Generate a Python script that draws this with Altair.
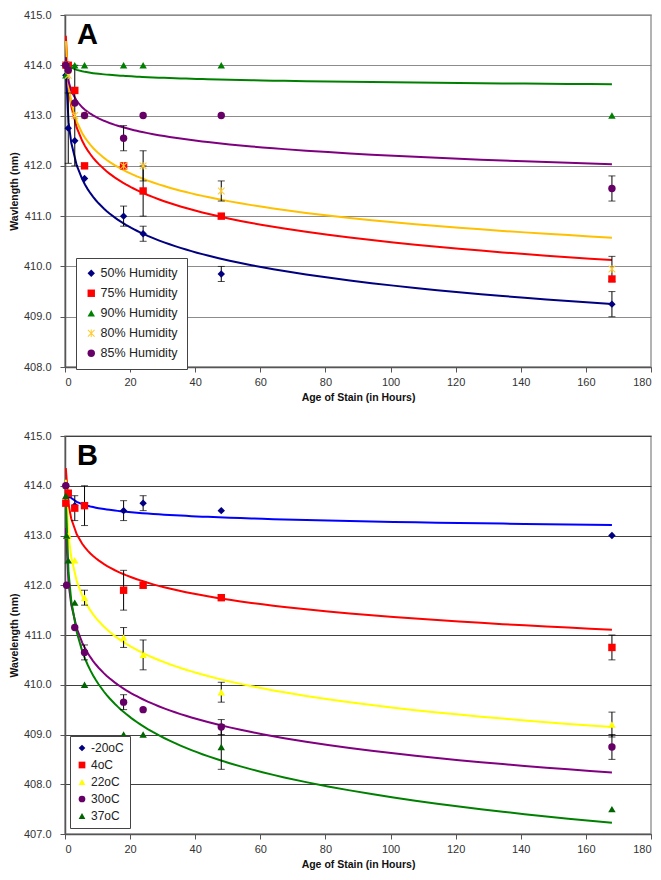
import altair as alt
import pandas as pd

# ---------------- Panel A : humidity ----------------
hours_a = [0.25, 1, 3, 6, 18, 24, 48, 168]
series_a = ["50% Humidity", "75% Humidity", "90% Humidity", "80% Humidity", "85% Humidity"]
a_50 = [413.8, 412.75, 412.5, 411.75, 411.0, 410.65, 409.85, 409.25]
a_50_err = [0, 0.7, 0, 0, 0.2, 0.15, 0.15, 0.25]
a_75 = [414.0, 414.0, 413.5, 412.0, 412.0, 411.5, 411.0, 409.75]
a_75_err = [0, 0, 0, 0, 0, 0.5, 0, 0]
a_90 = [413.8, 414.0, 414.0, 414.0, 414.0, 414.0, 414.0, 413.0]
a_90_err = [0, 0, 0, 0, 0, 0, 0, 0]
a_80 = [414.0, 413.8, 413.0, 413.0, 412.0, 412.0, 411.5, 409.95]
a_80_err = [0, 0, 1.0, 0, 0, 0.3, 0.2, 0.25]
a_85 = [414.0, 413.9, 413.25, 413.0, 412.55, 413.0, 413.0, 411.55]
a_85_err = [0, 0, 0, 0, 0.25, 0, 0, 0.25]

# ---------------- Panel B : temperature ----------------
hours_b = [0.25, 0.5, 1, 3, 6, 18, 24, 48, 168]
series_b = ["-20oC", "4oC", "22oC", "30oC", "37oC"]
b_m20 = [414.0, None, 413.8, 413.6, 413.6, 413.5, 413.65, 413.5, 413.0]
b_m20_err = [0, 0, 0, 0, 0, 0.2, 0.15, 0, 0]
b_4 = [413.65, None, 413.85, 413.55, 413.6, 411.9, 412.0, 411.75, 410.75]
b_4_err = [0, 0, 0, 0.25, 0.4, 0.4, 0, 0, 0.25]
b_22 = [414.0, None, 413.0, 412.5, 411.75, 410.95, 410.6, 409.85, 409.2]
b_22_err = [0, 0, 0, 0, 0.15, 0.2, 0.3, 0.2, 0.25]
b_30 = [414.0, 412.0, None, 411.15, 410.65, 409.65, 409.5, 409.15, 408.75]
b_30_err = [0, 0, 0, 0, 0.15, 0.15, 0, 0.15, 0.25]
b_37 = [413.8, 413.0, 412.5, 411.65, 410.0, 409.0, 409.0, 408.75, 407.5]
b_37_err = [0, 0, 0, 0, 0, 0, 0, 0.45, 0]

STAR = ("M-1,-0.8L-0.8,-1L0,-0.2L0.8,-1L1,-0.8L0.2,0L1,0.8L0.8,1L0,0.2L-0.8,1L-1,0.8L-0.2,0Z"
        "M-0.14,-1L0.14,-1L0.14,1L-0.14,1Z")

FONT = "Liberation Sans"


def build(hours, names, vals, errs):
    rows = []
    for name, v, e in zip(names, vals, errs):
        for h, y, err in zip(hours, v, e):
            if y is None:
                continue
            rows.append({"hours": h, "value": y, "series": name, "err": err,
                         "lo": y - err, "hi": y + err})
    return pd.DataFrame(rows)


def panel(df, names, ydom, yvals, ytitle, marker_colors, line_colors, shapes,
          width, height, legend_x, legend_y, legend_row, sym_size, label, grid_color,
          xmin, field, legend_pad, label_size):
    df = df.rename(columns={"series": field})
    x = alt.X("hours:Q", scale=alt.Scale(domain=[0, 180], nice=False),
              axis=alt.Axis(values=list(range(0, 181, 20)), grid=False,
                            title="Age of Stain (in Hours)"))
    y = alt.Y("value:Q", scale=alt.Scale(domain=ydom, nice=False, zero=False),
              axis=alt.Axis(values=yvals, format=".1f", grid=True, gridColor=grid_color,
                            gridWidth=1, title=ytitle))
    base = alt.Chart(df)
    leg = dict(title=None, orient="none", legendX=legend_x, legendY=legend_y,
               fillColor="white", strokeColor="#444", padding=legend_pad,
               labelFontSize=label_size, labelFont=FONT, labelColor="#222",
               symbolSize=sym_size, symbolStrokeWidth=0, rowPadding=legend_row,
               labelOffset=3)
    trend_names = [n + " trend" for n in names]
    lines = base.transform_regression(
        "hours", "value", groupby=[field], method="log", extent=[xmin, 168]
    ).transform_calculate(
        trend=f"datum['{field}'] + ' trend'"
    ).mark_line(strokeWidth=2, clip=True).encode(
        x=x, y=y,
        stroke=alt.Stroke("trend:N", scale=alt.Scale(domain=trend_names, range=line_colors),
                          legend=None),
    )
    err = base.transform_filter("datum.err > 0")
    bars = err.mark_rule(color="black", strokeWidth=1).encode(
        x="hours:Q", y="lo:Q", y2="hi:Q")
    caps = err.transform_fold(["lo", "hi"], as_=["k", "v"]).mark_tick(
        orient="horizontal", color="black", size=7, thickness=1).encode(
        x="hours:Q", y="v:Q")
    points = base.mark_point(filled=True, opacity=1, size=55).encode(
        x=x, y=y,
        color=alt.Color(f"{field}:N", scale=alt.Scale(domain=names, range=marker_colors),
                        legend=alt.Legend(**leg)),
        shape=alt.Shape(f"{field}:N", scale=alt.Scale(domain=names, range=shapes),
                        legend=alt.Legend(**leg)),
    )
    letter = alt.Chart(pd.DataFrame({"t": [label]})).mark_text(
        fontSize=29, fontWeight="bold", font=FONT, align="left", baseline="alphabetic",
        color="black").encode(text="t:N", x=alt.value(12), y=alt.value(29))
    return alt.layer(lines, bars, caps, points, letter).properties(width=width, height=height)


df_a = build(hours_a, series_a, [a_50, a_75, a_90, a_80, a_85],
             [a_50_err, a_75_err, a_90_err, a_80_err, a_85_err])
df_b = build(hours_b, series_b, [b_m20, b_4, b_22, b_30, b_37],
             [b_m20_err, b_4_err, b_22_err, b_30_err, b_37_err])

chart_a = panel(df_a, series_a, [408, 415], [408, 409, 410, 411, 412, 413, 414, 415],
                "Wavlength (nm)",
                ["#000080", "#FF0000", "#008000", "#FFCC33", "#660066"],
                ["#000080", "#FF0000", "#008000", "#FFC000", "#7F007F"],
                ["diamond", "square", "triangle-up", STAR, "circle"],
                586, 352, 11, 243, 7, 55, "A", "#8c8c8c", 0.25, "humidity", 9, 12.5)
chart_b = panel(df_b, series_b, [407, 415], [407, 408, 409, 410, 411, 412, 413, 414, 415],
                "Wavelength (nm)",
                ["#000080", "#FF0000", "#FFFF00", "#660066", "#006400"],
                ["#0000FF", "#FF0000", "#FFFF00", "#800080", "#008000"],
                ["diamond", "square", "triangle-up", "circle", "triangle-up"],
                586, 398, 5, 300, 5, 45, "B", "#404040", 0.25, "temperature", 6, 12)

chart = alt.vconcat(chart_a, chart_b, spacing=25).resolve_scale(
    color="independent", shape="independent", stroke="independent"
).resolve_legend(
    color="independent", shape="independent", stroke="independent"
).properties(
    padding={"left": 0, "top": 0, "right": 0, "bottom": 0}
).configure_view(stroke="#9a9a9a", strokeWidth=1.5).configure_axis(
    labelFont=FONT, titleFont=FONT, labelFontSize=11, labelColor="#333",
    titleFontSize=10.5, titleFontWeight="bold", titleColor="#111",
    domainColor="#555", domainWidth=1.5, tickColor="#555", tickSize=5,
    labelPadding=4
).configure_axisY(labelPadding=9, titlePadding=4).configure_axisX(titlePadding=5)

chart.save("out.html", embed_options={"renderer": "svg", "actions": False})
